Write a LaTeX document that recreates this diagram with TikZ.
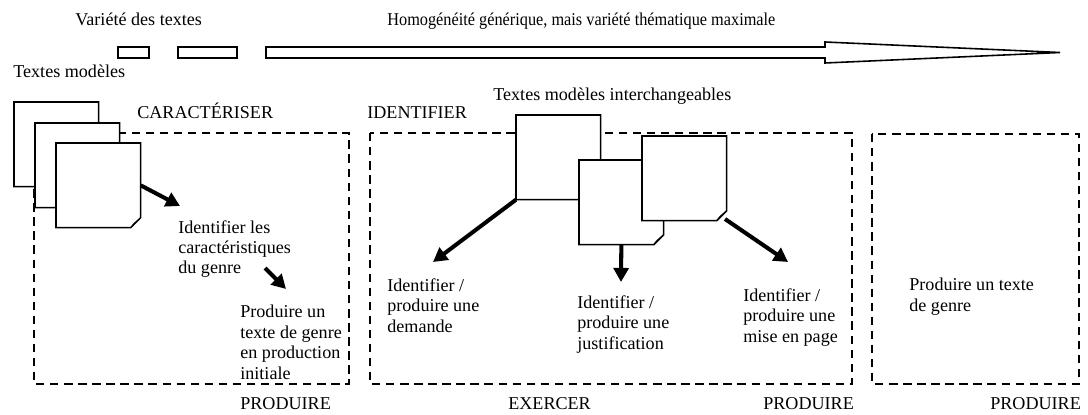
\documentclass[tikz,border=0pt]{standalone}
\usepackage{fontspec}
\setmainfont{Liberation Serif}
\usepackage{tikz}
\usetikzlibrary{positioning,arrows.meta}

\tikzset{
	trait/.style={line width=0.9pt},
	cadre/.style={line width=1.1pt, dash pattern=on 4.8pt off 3.2pt},
	fleche/.style={line width=2.3pt, -{Triangle[length=8pt,width=8.5pt]}},
	page/.style={rectangle, draw=none, inner sep=0pt, minimum size=1.68cm, anchor=north west},
	pli/.style={line width=0.5pt, fill=gray!30},
	texte/.style={anchor=base west, inner sep=0pt, align=left,
		font=\fontsize{10.3}{11.6}\selectfont}
}

% feuille avec coin replie : nom, coin haut gauche
\newcommand{\feuille}[2]{%
	\node[page] (#1) at (#2) {};
	\filldraw[trait, fill=white]
	(#1.north west) -- (#1.north east)
	-- ([yshift=2mm]#1.south east)
	-- ([xshift=-2mm]#1.south east)
	-- (#1.south west) -- cycle;
	\filldraw[pli]
	([yshift=2mm]#1.south east)
	-- ([xshift=-2mm]#1.south east)
	-- ([xshift=-1.4mm,yshift=0.8mm]#1.south east) -- cycle;
}

\begin{document}
\begin{tikzpicture}[x=0.02cm, y=-0.02cm]
		
		\useasboundingbox (0,0) rectangle (1088,415);
		
		% echelle de variete
		\node[texte] (variete) at (75,26) {Variété des textes};
		\node[texte] (homog) at (387,26)
		{\scalebox{0.9}[1]{Homogénéité générique, mais variété thématique maximale}};
		
		\foreach \xa/\xb in {118/149, 178/237}
		{
			\draw[trait] (\xa,47) rectangle (\xb,58);
		}
		
		\draw[trait]
		(266,47) -- (825,47) -- (825,42)
		-- (1060,52.5)
		-- (825,63) -- (825,58) -- (266,58) -- cycle;
		
		\node[texte] (modeles) at (13,78) {Textes modèles};
		
		% les trois cadres
		\draw[cadre] (34,133) rectangle (349,384);
		\draw[cadre] (370,133) rectangle (852,384);
		\draw[cadre] (872,134) rectangle (1079,384);
		
		\node[texte] (caract) at (137,119) {CARACTÉRISER};
		\node[texte] (ident) at (367,119) {IDENTIFIER};
		\node[texte] (interch) at (493,101) {Textes modèles interchangeables};
		
		\feuille{f1}{14,102}
		\feuille{f2}{35,123}
		\feuille{f3}{56,143}
		
		\feuille{fa}{516,115}
		\feuille{fb}{579,160}
		\feuille{fc}{642,136}
		
		% textes des cadres (ligne de base de la derniere ligne)
		\node[texte] (carac) at (178,274)
		{Identifier les\\caractéristiques\\du genre};
		\node[texte] (prodinit) at (240,379)
		{Produire un\\texte de genre\\en production\\initiale};
		\node[texte] (demande) at (387,332)
		{Identifier /\\produire une\\demande};
		\node[texte] (justif) at (577,349)
		{Identifier /\\produire une\\justification};
		\node[texte] (miseenpage) at (743,342)
		{Identifier /\\produire une\\mise en page};
		\node[texte] (prodgenre) at (909,311)
		{Produire un texte\\de genre};
		
		\node[texte] (prod1) at (240,409) {PRODUIRE};
		\node[texte] (exercer) at (508,409) {EXERCER};
		\node[texte] (prod2) at (763,409) {PRODUIRE};
		\node[texte] (prod3) at (990,409) {PRODUIRE};
		
		% fleches
		\coordinate (t1) at (180,206);
		\coordinate (s2) at (265,268);
		\coordinate (t2) at (286,289);
		\coordinate (t3) at (433,262);
		\coordinate (t4) at (621,282);
		\coordinate (s5) at (725,219);
		\coordinate (t5) at (788,262);
		
		\draw[fleche] (f3.east) -- (t1);
		\draw[fleche] (s2) -- (t2);
		\draw[fleche] (fa.south west) -- (t3);
		\draw[fleche] (fb.south) -- (t4);
		\draw[fleche] (s5) -- (t5);
		
	\end{tikzpicture}
\end{document}
